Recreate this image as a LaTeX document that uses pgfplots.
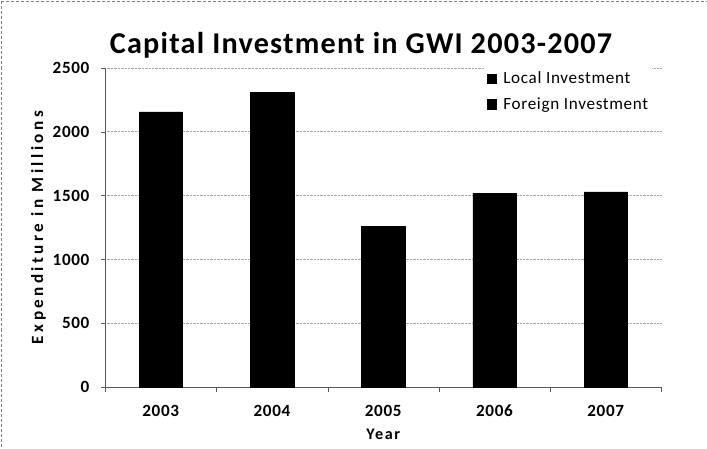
\documentclass[border=0pt]{standalone}
\usepackage{pgfplots}
\pgfplotsset{compat=1.18}
\usepackage{fontspec}
\setmainfont{Carlito}
\newfontfamily\widefont[LetterSpace=20]{Carlito}
\newfontfamily\spacedfont[LetterSpace=10]{Carlito}
\newfontfamily\lightspaced[LetterSpace=4]{Carlito}

\pgfplotstableread{
x year local foreign
0 2003 2155 0
1 2004 2305 0
2 2005 1260 0
3 2006 1520 0
4 2007 1530 0
}\invest

\begin{document}
\begin{tikzpicture}[x=1bp,y=1bp]
\begin{axis}[
    scale only axis,
    width=550bp, height=316bp,
    ybar stacked,
    bar width=43bp,
    xmin=-0.5, xmax=4.5,
    ymin=0, ymax=2500,
    ytick={0,500,1000,1500,2000,2500},
    xtick=data,
    xticklabels={2003,2004,2005,2006,2007},
    minor xtick={-0.5,0.5,1.5,2.5,3.5,4.5},
    major x tick style={draw=none},
    minor tick length=5bp,
    major tick length=4bp,
    tick align=outside,
    axis x line*=bottom,
    axis y line*=left,
    axis line style={gray!70!black, -},
    tick style={gray!70!black},
    ymajorgrids=true,
    grid style={densely dotted, gray!70},
    /pgf/number format/1000 sep={},
    /pgf/number format/assume math mode=true,
    tick label style={font=\lightspaced\fontsize{17}{19}\selectfont\bfseries},
    xticklabel style={yshift=-10bp},
    yticklabel style={xshift=-8bp},
    xlabel={Year},
    ylabel={Expenditure in Millions},
    xlabel style={font=\spacedfont\fontsize{16}{18}\selectfont\bfseries, yshift=-5bp},
    ylabel style={font=\widefont\fontsize{17}{19}\selectfont\bfseries, yshift=0bp},
    title={Capital Investment in GWI 2003-2007},
    title style={font=\lightspaced\fontsize{30}{32}\selectfont\bfseries, xshift=-22bp, yshift=0bp},
    legend style={at={(rel axis cs:0.682,1.0)}, anchor=north west, draw=none, fill=white,
        font=\lightspaced\fontsize{17}{19}\selectfont, row sep=8bp, inner sep=2bp,
        /tikz/every odd column/.append style={column sep=5bp}},
    legend cell align=left,
    legend image code/.code={\fill[black] (0bp,-4.5bp) rectangle (9bp,4.5bp);},
]
\addplot[fill=black, draw=black] table[x=x, y=local] {\invest};
\addlegendentry{Local Investment}
\addplot[fill=black, draw=black] table[x=x, y=foreign] {\invest};
\addlegendentry{Foreign Investment}
\coordinate (bl) at (rel axis cs:-0.189,-0.19);
\coordinate (tr) at (rel axis cs:1.082,1.212);
\end{axis}
\draw[densely dashed, gray] ([xshift=1bp,yshift=-1bp]bl |- tr) -- ([yshift=-1bp]tr);
\draw[densely dashed, gray] ([xshift=1bp,yshift=-1bp]bl |- tr) -- ([xshift=1bp]bl);
\pgfresetboundingbox
\path (bl) rectangle (tr);
\end{tikzpicture}
\end{document}
